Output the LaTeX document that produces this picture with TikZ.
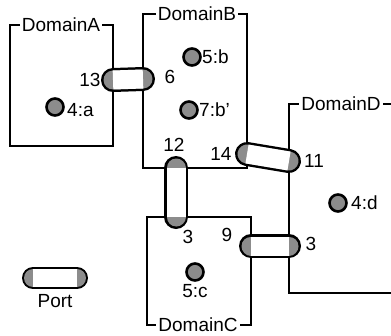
\documentclass[tikz,border=0pt]{standalone}
\usepackage{fontspec}
\setmainfont{Liberation Sans}

\tikzset{
  domainbox/.style={line width=2pt},
  dname/.style={fill=white, inner xsep=2pt, inner ysep=0pt, font=\fontsize{19}{19}\selectfont},
  lbl/.style={inner sep=0pt, font=\fontsize{19}{19}\selectfont},
  port/.style={circle, draw, line width=2.6pt, fill=black!45, minimum size=17pt, inner sep=0pt},
  linkedge/.style={line width=24pt, line cap=round},
  linkcap/.style={line width=19pt, line cap=round, black!45},
  linkmid/.style={line width=19pt, line cap=butt, white}
}

\begin{document}
\begin{tikzpicture}[x=1pt,y=-1pt]

\useasboundingbox (0,0) rectangle (391,335);

%% Domains
\draw[domainbox] (10,25) rectangle (113,146);
\draw[domainbox] (143,14) rectangle (247,168);
\draw[domainbox] (289,104) rectangle (394,293);
\draw[domainbox] (147,217) rectangle (251,325);

\node[dname] (nameA) at (61,25) {DomainA};
\node[dname] (nameB) at (197,14) {DomainB};
\node[dname] (nameD) at (341,104) {DomainD};
\node[dname] (nameC) at (198,325) {DomainC};

%% Internal ports
\node[port] (p4a) at (55,107) {};
\node[port] (p5b) at (192,57) {};
\node[port] (p7b) at (189,110) {};
\node[port] (p4d) at (338,203) {};
\node[port] (p5c) at (195,272) {};

\node[lbl, anchor=west] (t4a) at (67,110) {4:a};
\node[lbl, anchor=west] (t5b) at (202,57) {5:b};
\node[lbl, anchor=west] (t7b) at (199,110) {7:b'};
\node[lbl, anchor=west] (t4d) at (351,203) {4:d};
\node[lbl] (t5c) at (195,291) {5:c};

%% Link end points
\coordinate (a13) at (113,80);
\coordinate (b6) at (143,79);
\coordinate (b14) at (247,154);
\coordinate (d11) at (289,161);
\coordinate (b12) at (176,168);
\coordinate (c3) at (176,217);
\coordinate (c9) at (251,246);
\coordinate (d3) at (289,246);

%% Links
\foreach \p/\q in {a13/b6, b14/d11, b12/c3, c9/d3} {
  \draw[linkedge] (\p) -- (\q);
  \draw[linkcap] (\p) -- (\q);
  \draw[linkmid] (\p) -- (\q);
}

\node[lbl] (t13) at (90,80) {13};
\node[lbl] (t6) at (170,77) {6};
\node[lbl] (t14) at (221,154) {14};
\node[lbl] (t11) at (314,161) {11};
\node[lbl] (t12) at (174,145) {12};
\node[lbl] (t3c) at (188,237) {3};
\node[lbl] (t9) at (227,235) {9};
\node[lbl] (t3d) at (311,244) {3};

%% Legend
\coordinate (legl) at (33,278);
\coordinate (legr) at (77,278);
\draw[linkedge, line width=22pt] (legl) -- (legr);
\draw[linkcap, line width=18pt] (legl) -- (legr);
\draw[linkmid, line width=18pt] (legl) -- (legr);
\node[lbl] (tport) at (55,301) {Port};

\end{tikzpicture}
\end{document}
